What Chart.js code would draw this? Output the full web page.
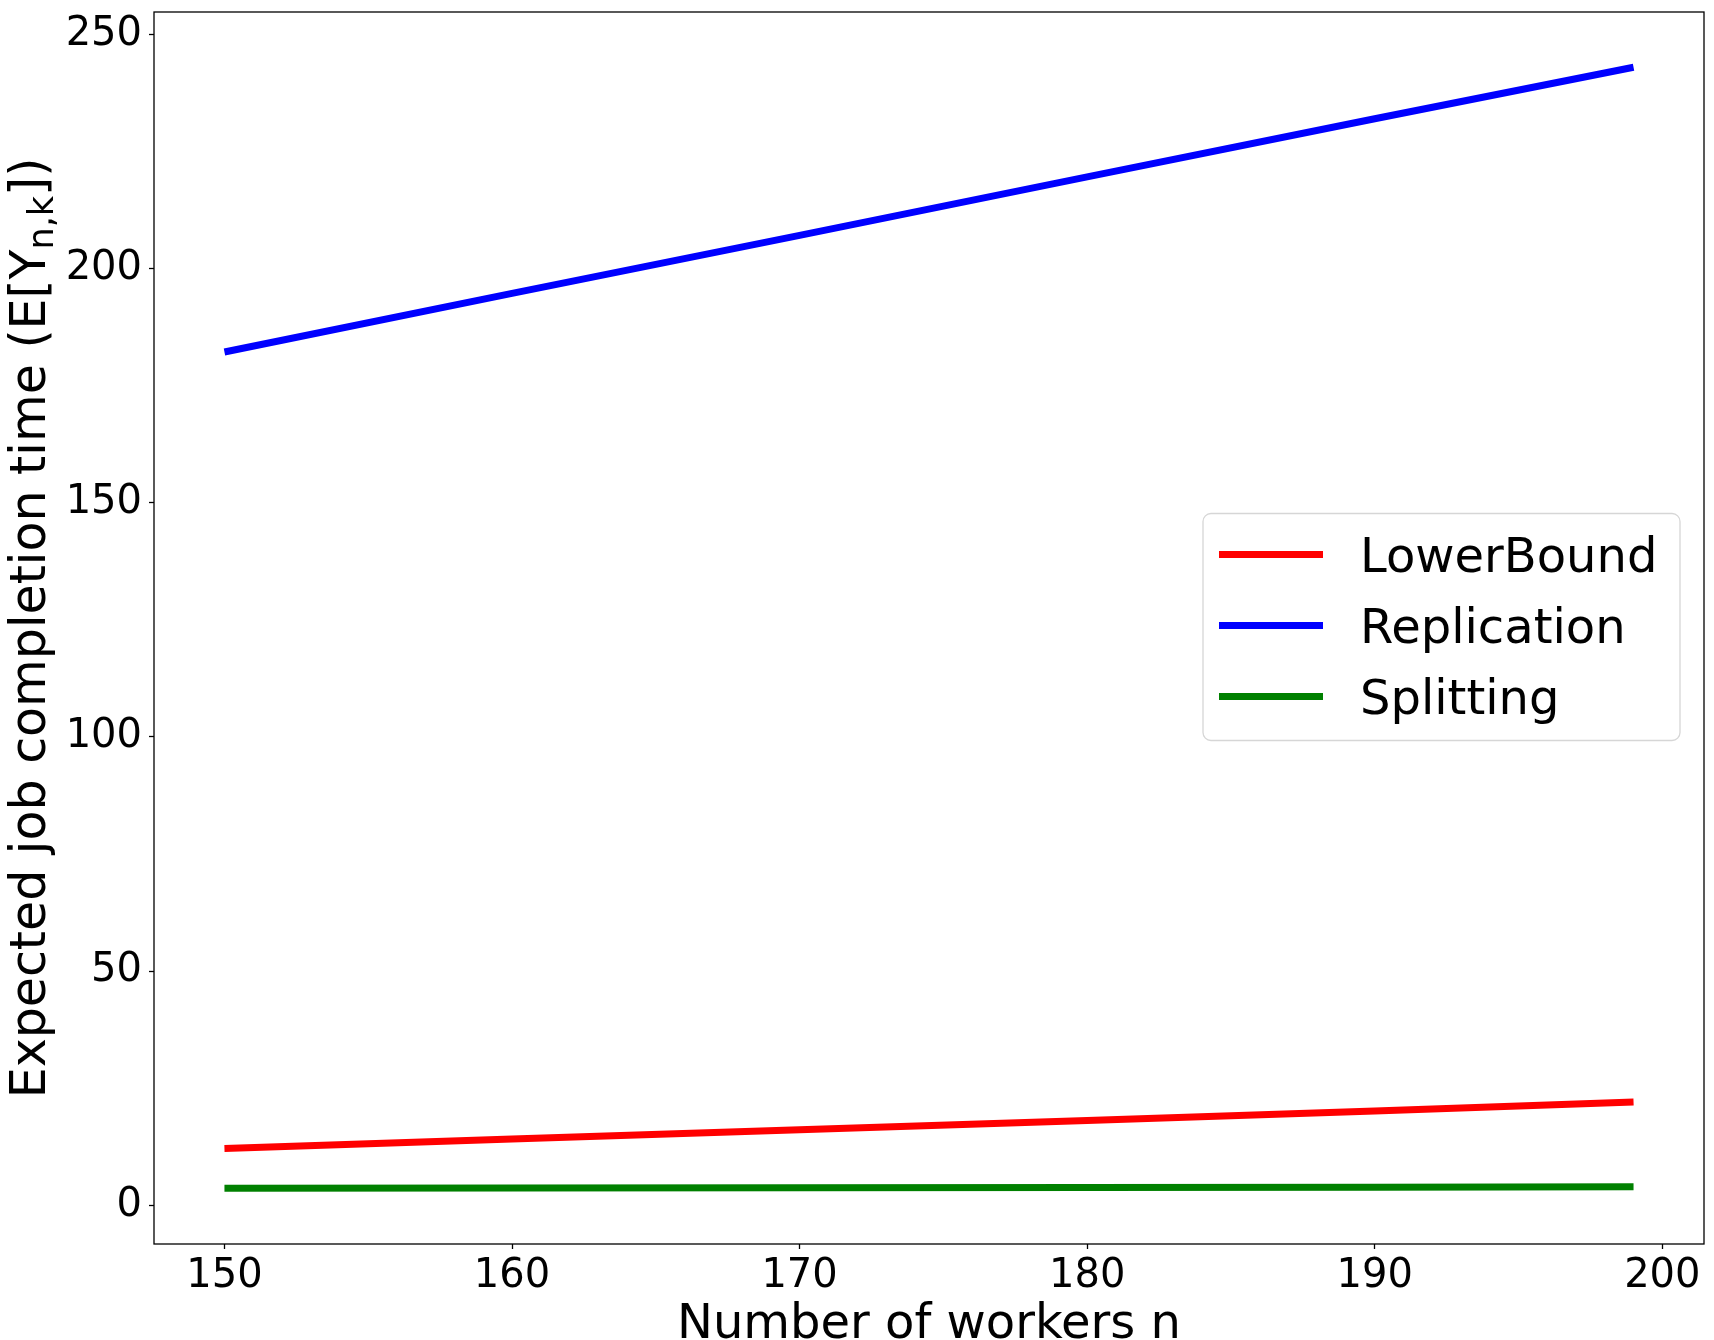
<!DOCTYPE html>
<html>
<head>
<meta charset="utf-8">
<script src="https://cdn.jsdelivr.net/npm/chart.js@4/dist/chart.umd.min.js"></script>
<style>
  html, body { margin: 0; padding: 0; background: #fff; }
  canvas { display: block; }
</style>
</head>
<body>
<canvas id="chart" width="1714" height="1340"></canvas>
<script>
// Données
const workers = [150, 160, 170, 180, 190, 199];
const lowerBound = [12.1, 14.1, 16.1, 18.1, 20.1, 22.0];
const replication = [182.2, 194.7, 207.1, 219.6, 232.0, 243.0];
const splitting = [3.6, 3.65, 3.7, 3.75, 3.8, 3.9];

const seriesNames = ["LowerBound", "Replication", "Splitting"];
const seriesColors = ["#ff0000", "#0000ff", "#008000"];
const xTicks = [150, 160, 170, 180, 190, 200];
const yTicks = [0, 50, 100, 150, 200, 250];

const FONT = "'DejaVu Sans', sans-serif";

function toPoints(values) {
  return workers.map((n, i) => ({ x: n, y: values[i] }));
}

// Titres d'axes, cadre et légende dessinés à la main
const decorPlugin = {
  id: "decor",
  afterDraw(chart) {
    const ctx = chart.ctx;
    const area = chart.chartArea;
    ctx.save();

    // cadre complet
    ctx.strokeStyle = "#000";
    ctx.lineWidth = 1.3;
    ctx.strokeRect(area.left, area.top, area.right - area.left, area.bottom - area.top);

    // titre axe X
    ctx.fillStyle = "#000";
    ctx.font = "48px " + FONT;
    ctx.textAlign = "center";
    ctx.textBaseline = "alphabetic";
    ctx.fillText("Number of workers n", (area.left + area.right) / 2, 1338);

    // titre axe Y avec indice
    const main = "Expected job completion time (E[Y";
    const sub = "n,k";
    const end = "])";
    ctx.font = "49px " + FONT;
    const wMain = ctx.measureText(main).width;
    const wEnd = ctx.measureText(end).width;
    ctx.font = "35px " + FONT;
    const wSub = ctx.measureText(sub).width;
    const total = wMain + wSub + wEnd;
    ctx.translate(45, (area.top + area.bottom) / 2);
    ctx.rotate(-Math.PI / 2);
    ctx.textAlign = "left";
    let x = -total / 2;
    ctx.font = "49px " + FONT;
    ctx.fillText(main, x, 0);
    x += wMain;
    ctx.font = "35px " + FONT;
    ctx.fillText(sub, x, 8);
    x += wSub;
    ctx.font = "49px " + FONT;
    ctx.fillText(end, x, 0);
    ctx.restore();

    // légende
    ctx.save();
    const boxW = 477, boxH = 227;
    const bx = area.right - 24 - boxW;
    const by = (area.top + area.bottom) / 2 - boxH / 2 - 1;
    ctx.fillStyle = "rgba(255,255,255,0.8)";
    ctx.strokeStyle = "#d6d6d6";
    ctx.lineWidth = 1.3;
    ctx.beginPath();
    ctx.roundRect(bx, by, boxW, boxH, 8);
    ctx.fill();
    ctx.stroke();
    ctx.font = "48px " + FONT;
    ctx.textAlign = "left";
    ctx.textBaseline = "alphabetic";
    chart.data.datasets.forEach((ds, i) => {
      const rowY = by + 41 + i * 71;
      ctx.strokeStyle = ds.borderColor;
      ctx.lineWidth = ds.borderWidth;
      ctx.beginPath();
      ctx.moveTo(bx + 16, rowY);
      ctx.lineTo(bx + 120, rowY);
      ctx.stroke();
      ctx.fillStyle = "#000";
      ctx.fillText(ds.label, bx + 157, rowY + 17.5);
    });
    ctx.restore();
  }
};

new Chart(document.getElementById("chart"), {
  type: "line",
  data: {
    datasets: [lowerBound, replication, splitting].map((vals, i) => ({
      label: seriesNames[i],
      data: toPoints(vals),
      borderColor: seriesColors[i],
      backgroundColor: seriesColors[i],
      borderWidth: 7,
      pointRadius: 0,
      tension: 0,
      fill: false,
      borderCapStyle: "butt"
    }))
  },
  options: {
    responsive: false,
    animation: false,
    layout: { padding: { top: 12, right: 10, left: 0, bottom: 0 } },
    plugins: {
      legend: { display: false },
      tooltip: { enabled: false }
    },
    scales: {
      x: {
        type: "linear",
        min: 147.55,
        max: 201.45,
        afterFit: scale => {
          scale.height = 96;
          scale.paddingLeft = 0;
          scale.paddingRight = 0;
        },
        afterBuildTicks: scale => { scale.ticks = xTicks.map(v => ({ value: v })); },
        grid: {
          display: true,
          drawOnChartArea: false,
          drawTicks: true,
          tickLength: 5,
          color: "#000",
          tickWidth: 1.3
        },
        border: { display: false },
        ticks: {
          color: "#000",
          padding: 4,
          maxRotation: 0,
          font: { family: FONT, size: 40 }
        }
      },
      y: {
        type: "linear",
        min: -8.3,
        max: 254.8,
        afterFit: scale => {
          scale.width = 154;
          scale.paddingTop = 0;
          scale.paddingBottom = 0;
        },
        afterBuildTicks: scale => { scale.ticks = yTicks.map(v => ({ value: v })); },
        grid: {
          display: true,
          drawOnChartArea: false,
          drawTicks: true,
          tickLength: 5,
          color: "#000",
          tickWidth: 1.3
        },
        border: { display: false },
        ticks: {
          color: "#000",
          padding: 7,
          font: { family: FONT, size: 40 }
        }
      }
    }
  },
  plugins: [decorPlugin]
});
</script>
</body>
</html>
